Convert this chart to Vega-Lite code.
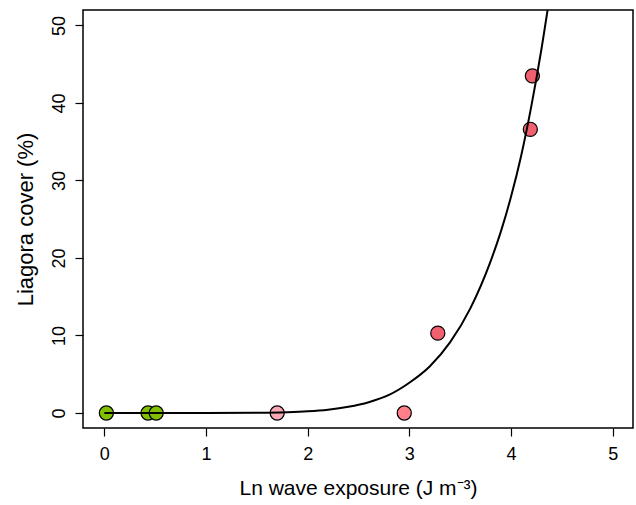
{
  "$schema": "https://vega.github.io/schema/vega-lite/v6.json",
  "width": 550,
  "height": 418,
  "autosize": {"type": "none"},
  "padding": {"left": 83, "top": 10, "right": 3, "bottom": 77},
  "background": "white",
  "config": {
    "view": {"stroke": "black", "strokeWidth": 1.5},
    "font": "Liberation Sans",
    "axis": {
      "grid": false,
      "domain": false,
      "tickColor": "black",
      "tickSize": 8,
      "tickWidth": 1.2,
      "labelFont": "Liberation Sans",
      "labelFontSize": 18,
      "labelColor": "black",
      "titleFont": "Liberation Sans",
      "titleFontSize": 21,
      "titleFontWeight": "normal",
      "titleColor": "black"
    }
  },
  "datasets": {
    "pts": [
      {"exposure": 0.02, "cover": 0, "grp": "low"},
      {"exposure": 0.43, "cover": 0, "grp": "low"},
      {"exposure": 0.51, "cover": 0, "grp": "low"},
      {"exposure": 1.70, "cover": 0, "grp": "mid1"},
      {"exposure": 2.95, "cover": 0, "grp": "mid2"},
      {"exposure": 3.28, "cover": 10.3, "grp": "high"},
      {"exposure": 4.19, "cover": 36.6, "grp": "high"},
      {"exposure": 4.21, "cover": 43.5, "grp": "high"}
    ],
    "fit": [
      {"exposure": 0.0, "cover": 0.0},
      {"exposure": 0.5, "cover": 0.0},
      {"exposure": 1.0, "cover": 0.002},
      {"exposure": 1.5, "cover": 0.03},
      {"exposure": 1.8, "cover": 0.105},
      {"exposure": 2.0, "cover": 0.22},
      {"exposure": 2.2, "cover": 0.43},
      {"exposure": 2.4, "cover": 0.8},
      {"exposure": 2.6, "cover": 1.39},
      {"exposure": 2.8, "cover": 2.33},
      {"exposure": 3.0, "cover": 3.9},
      {"exposure": 3.2, "cover": 6.0},
      {"exposure": 3.4, "cover": 9.1},
      {"exposure": 3.6, "cover": 13.5},
      {"exposure": 3.8, "cover": 19.6},
      {"exposure": 3.9, "cover": 23.4},
      {"exposure": 4.0, "cover": 27.9},
      {"exposure": 4.1, "cover": 33.2},
      {"exposure": 4.2, "cover": 39.6},
      {"exposure": 4.3, "cover": 47.0},
      {"exposure": 4.4, "cover": 55.5}
    ]
  },
  "layer": [
    {
      "data": {"name": "pts"},
      "mark": {"type": "point", "filled": true, "shape": "circle", "size": 200, "stroke": "black", "strokeWidth": 1.2, "opacity": 1},
      "encoding": {
        "x": {
          "field": "exposure", "type": "quantitative",
          "scale": {"domain": [-0.21, 5.2], "nice": false, "zero": false},
          "axis": {"values": [0, 1, 2, 3, 4, 5], "format": "d", "title": "Ln wave exposure (J m⁻³)", "labelPadding": 9, "titlePadding": 14}
        },
        "y": {
          "field": "cover", "type": "quantitative",
          "scale": {"domain": [-1.94, 52.0], "nice": false, "zero": false},
          "axis": {"values": [0, 10, 20, 30, 40, 50], "format": "d", "title": "Liagora cover (%)", "titleFontSize": 22, "labelAngle": -90, "labelAlign": "center", "labelBaseline": "bottom", "labelPadding": 7, "titlePadding": 13}
        },
        "fill": {
          "field": "grp", "type": "nominal",
          "scale": {"domain": ["low", "mid1", "mid2", "high"], "range": ["#80c000", "#f9a8b5", "#ff8088", "#f0606e"]},
          "legend": null
        }
      }
    },
    {
      "data": {"name": "fit"},
      "mark": {"type": "line", "color": "black", "strokeWidth": 2, "clip": true, "interpolate": "monotone"},
      "encoding": {
        "x": {"field": "exposure", "type": "quantitative"},
        "y": {"field": "cover", "type": "quantitative"}
      }
    }
  ]
}
